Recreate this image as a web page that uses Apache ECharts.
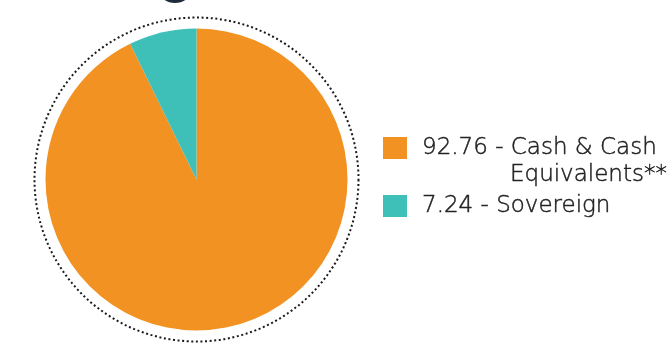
<!DOCTYPE html>
<html><head><meta charset="utf-8">
<script src="https://cdn.jsdelivr.net/npm/echarts@6/dist/echarts.min.js"></script>
<style>html,body{margin:0;padding:0;background:#fff}#c{width:669px;height:357px}</style>
</head><body><div id="c"></div>
<script>
const categories = ['Cash & Cash Equivalents**', 'Sovereign'];
const values = [92.76, 7.24];
const colors = ['#F29222', '#3EC0B9'];

const chart = echarts.init(document.getElementById('c'));
const fontFam = '"DejaVu Sans", sans-serif';
const txt = { fontFamily: fontFam, fontWeight: 200, fontSize: 23, color: '#222', lineHeight: 27, textBorderColor: '#222', textBorderWidth: 0.45 };
chart.setOption({
  animation: false,
  graphic: [
    { type: 'circle', shape: { cx: 196.5, cy: 179.5, r: 162 }, style: { fill: 'none', stroke: '#1a1a1a', lineWidth: 2, lineDash: [2, 2.6] }, z: 0 },
    { type: 'ellipse', shape: { cx: 175, cy: -8, rx: 15, ry: 11 }, style: { fill: '#1e2b3a' } }
  ],
  legend: {
    orient: 'vertical',
    left: 378,
    top: 102.5,
    itemWidth: 24,
    itemHeight: 22,
    itemGap: 4,
    icon: 'rect',
    selectedMode: false,
    data: [
      { name: categories[0], textStyle: { padding: [27, 0, 0, 10] } },
      { name: categories[1], textStyle: { padding: [0, 0, 0, 10] } }
    ],
    formatter: function (name) {
      const i = categories.indexOf(name);
      const v = values[i].toFixed(2);
      if (i === 0) {
        return '{a|' + v + ' - Cash & Cash}\n{b|Equivalents**}';
      }
      return '{a|' + v + ' - ' + name + '}';
    },
    textStyle: Object.assign({}, txt, {
      rich: {
        a: Object.assign({}, txt),
        b: Object.assign({}, txt, { padding: [0, 0, 0, 88] })
      }
    })
  },
  series: [{
    type: 'pie',
    center: [196.5, 179.5],
    radius: [0, 151],
    startAngle: 90,
    clockwise: true,
    label: { show: false },
    labelLine: { show: false },
    emphasis: { disabled: true },
    itemStyle: { borderWidth: 0 },
    data: categories.map((c, i) => ({ name: c, value: values[i], itemStyle: { color: colors[i] } }))
  }]
});
</script></body></html>
